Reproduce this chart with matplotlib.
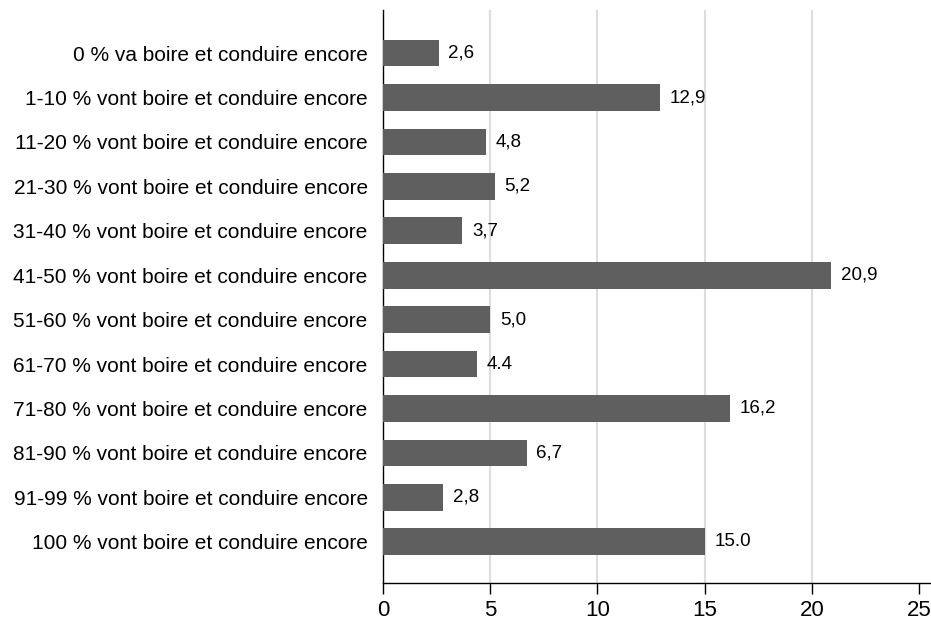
import numpy as np
import matplotlib.pyplot as plt

plt.rcParams['font.family'] = ['Liberation Sans', 'DejaVu Sans']

# share of drivers in each bracket who will drink and drive again
categories = ['0 % va boire et conduire encore',
              '1-10 % vont boire et conduire encore',
              '11-20 % vont boire et conduire encore',
              '21-30 % vont boire et conduire encore',
              '31-40 % vont boire et conduire encore',
              '41-50 % vont boire et conduire encore',
              '51-60 % vont boire et conduire encore',
              '61-70 % vont boire et conduire encore',
              '71-80 % vont boire et conduire encore',
              '81-90 % vont boire et conduire encore',
              '91-99 % vont boire et conduire encore',
              '100 % vont boire et conduire encore']
values = [2.6, 12.9, 4.8, 5.2, 3.7, 20.9, 5.0, 4.4, 16.2, 6.7, 2.8, 15.0]
value_labels = ['2,6', '12,9', '4,8', '5,2', '3,7', '20,9', '5,0', '4.4',
                '16,2', '6,7', '2,8', '15.0']
xticks = [0, 5, 10, 15, 20, 25]
grid_at = [5, 10, 15, 20]

fig = plt.figure(figsize=(9.31, 6.24), dpi=100)
ax = fig.add_axes([383 / 931, 1 - 583 / 624, 548 / 931, 573 / 624])

y = np.arange(len(categories))
ax.barh(y, values, height=0.6, color='#5f5f5f', zorder=3)
for yi, v, lab in zip(y, values, value_labels):
    ax.text(v + 0.45, yi, lab, va='center', ha='left', fontsize=13.5, color='black')

for g in grid_at:
    ax.axvline(g, color='#dddddd', linewidth=1.5, zorder=0)

ax.set_yticks(y)
ax.set_yticklabels(categories, fontsize=15)
ax.tick_params(axis='y', length=0, pad=11)
ax.set_xticks(xticks)
ax.set_xticklabels([str(t) for t in xticks], fontsize=16)
ax.tick_params(axis='x', length=8, width=1, pad=4)

ax.set_xlim(0, 25.55)
ax.set_ylim(11.93, -0.97)
ax.spines['top'].set_visible(False)
ax.spines['right'].set_visible(False)
ax.spines['left'].set_linewidth(1)
ax.spines['bottom'].set_linewidth(1)

fig.savefig('out.png', dpi=100)
